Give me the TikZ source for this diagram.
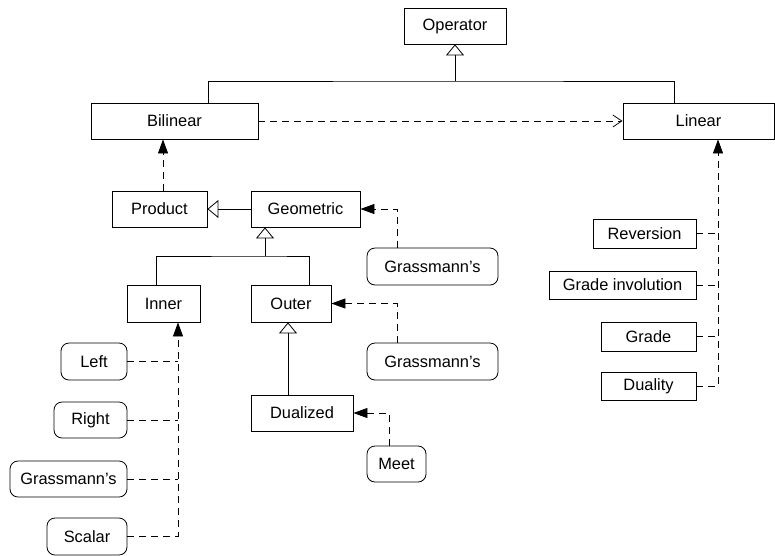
\documentclass[tikz,border=0pt]{standalone}
\usepackage{fontspec}
\setmainfont{Liberation Sans}
\usetikzlibrary{arrows.meta}

\tikzset{
  cls/.style={draw, line width=0.8pt, inner sep=0pt, align=center},
  rcls/.style={cls, rounded corners=8pt},
  gen/.style={line width=0.8pt, -{Triangle[open, length=11pt, width=18pt]}},
  real/.style={line width=0.8pt, dash pattern=on 7pt off 5pt, -{Triangle[length=14pt, width=10pt]}},
  dep/.style={line width=0.8pt, dash pattern=on 7pt off 5pt},
  use/.style={dep, -{Straight Barb[length=9pt, width=12pt]}}
}

\begin{document}
\begin{tikzpicture}[x=1pt, y=-1pt, font=\fontsize{16.4}{19}\selectfont]
  \useasboundingbox (0,0) rectangle (775,555);

  % classes
  \node[cls, minimum width=102pt, minimum height=36pt] (op) at (455,26) {Operator};
  \node[cls, minimum width=167pt, minimum height=36pt] (bil) at (174.5,121) {Bilinear};
  \node[cls, minimum width=151pt, minimum height=36pt] (lin) at (698.5,121) {Linear};
  \node[cls, minimum width=95pt, minimum height=36pt] (prod) at (159.5,209) {Product};
  \node[cls, minimum width=109pt, minimum height=36pt] (geo) at (305.5,209) {Geometric};
  \node[cls, minimum width=73pt, minimum height=37pt] (inn) at (163.5,303.5) {Inner};
  \node[cls, minimum width=80pt, minimum height=37pt] (out) at (291,303.5) {Outer};
  \node[cls, minimum width=102pt, minimum height=36pt] (dua) at (302,413) {Dualized};

  \node[rcls, minimum width=131pt, minimum height=37pt] (grgeo) at (432.5,266.5) {Grassmann’s};
  \node[rcls, minimum width=131pt, minimum height=37pt] (grout) at (432.5,361.5) {Grassmann’s};
  \node[rcls, minimum width=59pt, minimum height=36pt] (meet) at (396.5,464) {Meet};
  \node[rcls, minimum width=66pt, minimum height=37pt] (left) at (94,361.5) {Left};
  \node[rcls, minimum width=73pt, minimum height=36pt] (right) at (90.5,420) {Right};
  \node[rcls, minimum width=117pt, minimum height=36pt] (grinn) at (68.5,479) {Grassmann’s};
  \node[rcls, minimum width=80pt, minimum height=37pt] (sca) at (87,536.5) {Scalar};

  \node[cls, minimum width=103pt, minimum height=29pt] (rev) at (644.5,233.5) {Reversion};
  \node[cls, minimum width=147pt, minimum height=28pt] (ginv) at (622.5,285) {Grade involution};
  \node[cls, minimum width=95pt, minimum height=29pt] (grade) at (648.5,336.5) {Grade};
  \node[cls, minimum width=95pt, minimum height=28pt] (dual) at (648.5,386) {Duality};

  % junctions
  \coordinate (opj) at (455,81);
  \coordinate (geoj) at (265,256);
  \coordinate (itrunk) at ([xshift=14.5pt]inn.south);
  \coordinate (ltrunk) at ([xshift=19.5pt]lin.south);

  % inheritance
  \draw[gen] (opj) -- (op.south);
  \draw[line width=0.8pt] ([xshift=33.5pt]bil.north) |- (opj) -| ([xshift=-24.5pt]lin.north);
  \draw[gen] (geo.west) -- (prod.east);
  \draw[gen] (geoj) -- ([xshift=-40.5pt]geo.south);
  \draw[line width=0.8pt] ([xshift=-7.5pt]inn.north) |- (geoj) -| ([xshift=18pt]out.north);
  \draw[gen] ([xshift=-14pt]dua.north) -- ([xshift=-3pt]out.south);

  % realizations
  \draw[use] (bil.east) -- (lin.west);
  \draw[real] ([xshift=3.5pt]prod.north) -- ([xshift=-11.5pt]bil.south);
  \draw[real] ([xshift=-35.5pt]grgeo.north) |- (geo.east);
  \draw[real] ([xshift=-35.5pt]grout.north) |- (out.east);
  \draw[real] ([xshift=-7.5pt]meet.north) |- (dua.east);

  \draw[real] (sca.east) -| (itrunk);
  \draw[dep] (left.east) -- (left.east -| itrunk);
  \draw[dep] (right.east) -- (right.east -| itrunk);
  \draw[dep] (grinn.east) -- (grinn.east -| itrunk);

  \draw[real] (dual.east) -| (ltrunk);
  \draw[dep] (rev.east) -- (rev.east -| ltrunk);
  \draw[dep] (ginv.east) -- (ginv.east -| ltrunk);
  \draw[dep] (grade.east) -- (grade.east -| ltrunk);
\end{tikzpicture}
\end{document}
